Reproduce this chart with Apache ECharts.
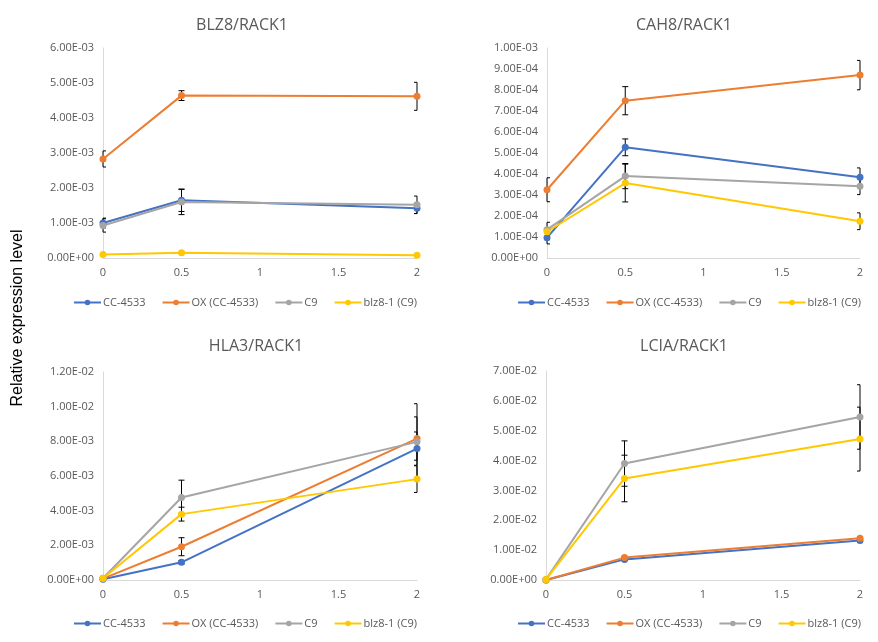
<!DOCTYPE html>
<html>
<head>
<meta charset="utf-8">
<script src="https://cdn.jsdelivr.net/npm/echarts@6/dist/echarts.min.js"></script>
<style>
html,body{margin:0;padding:0;background:#fff;}
#c{width:878px;height:642px;}
</style>
</head>
<body>
<div id="c"></div>
<script>
// ---- data ----
const times = [0, 0.5, 2];
const seriesNames = ['CC-4533', 'OX (CC-4533)', 'C9', 'blz8-1 (C9)'];
const xTickLabels = ['0', '0.5', '1', '1.5', '2'];

const panelTitles = ['BLZ8/RACK1', 'CAH8/RACK1', 'HLA3/RACK1', 'LCIA/RACK1'];
const panelYMax = [6e-3, 1e-3, 1.2e-2, 7e-2];
const panelYStep = [1e-3, 1e-4, 2e-3, 1e-2];

// BLZ8/RACK1
const blz8_CC = [1.00e-3, 1.65e-3, 1.42e-3];
const blz8_OX = [2.83e-3, 4.64e-3, 4.62e-3];
const blz8_C9 = [0.93e-3, 1.60e-3, 1.52e-3];
const blz8_mut = [0.10e-3, 0.15e-3, 0.08e-3];
const blz8_CC_err = [0.14e-3, 0.32e-3, 0.15e-3];
const blz8_OX_err = [0.23e-3, 0.14e-3, 0.40e-3];
const blz8_C9_err = [0.19e-3, 0.36e-3, 0.25e-3];
const blz8_mut_err = [0.02e-3, 0.02e-3, 0.02e-3];

// CAH8/RACK1
const cah8_CC = [0.97e-4, 5.27e-4, 3.84e-4];
const cah8_OX = [3.25e-4, 7.49e-4, 8.71e-4];
const cah8_C9 = [1.35e-4, 3.90e-4, 3.42e-4];
const cah8_mut = [1.25e-4, 3.57e-4, 1.75e-4];
const cah8_CC_err = [0.30e-4, 0.40e-4, 0.45e-4];
const cah8_OX_err = [0.57e-4, 0.67e-4, 0.70e-4];
const cah8_C9_err = [0.35e-4, 0.60e-4, 0.40e-4];
const cah8_mut_err = [0.20e-4, 0.90e-4, 0.40e-4];

// HLA3/RACK1
const hla3_CC = [0.04e-3, 1.02e-3, 7.58e-3];
const hla3_OX = [0.08e-3, 1.92e-3, 8.16e-3];
const hla3_C9 = [0.10e-3, 4.76e-3, 7.97e-3];
const hla3_mut = [0.10e-3, 3.80e-3, 5.82e-3];
const hla3_CC_err = [0.02e-3, 0.10e-3, 0.96e-3];
const hla3_OX_err = [0.03e-3, 0.52e-3, 1.25e-3];
const hla3_C9_err = [0.05e-3, 1.00e-3, 2.20e-3];
const hla3_mut_err = [0.05e-3, 0.40e-3, 0.77e-3];

// LCIA/RACK1
const lcia_CC = [0.00e-2, 0.69e-2, 1.32e-2];
const lcia_OX = [0.00e-2, 0.75e-2, 1.40e-2];
const lcia_C9 = [0.02e-2, 3.90e-2, 5.46e-2];
const lcia_mut = [0.02e-2, 3.40e-2, 4.72e-2];
const lcia_CC_err = [0.00e-2, 0.03e-2, 0.05e-2];
const lcia_OX_err = [0.00e-2, 0.03e-2, 0.05e-2];
const lcia_C9_err = [0.01e-2, 0.76e-2, 1.08e-2];
const lcia_mut_err = [0.01e-2, 0.78e-2, 1.07e-2];

const panelValues = [
  [blz8_CC, blz8_OX, blz8_C9, blz8_mut],
  [cah8_CC, cah8_OX, cah8_C9, cah8_mut],
  [hla3_CC, hla3_OX, hla3_C9, hla3_mut],
  [lcia_CC, lcia_OX, lcia_C9, lcia_mut]
];
const panelErrors = [
  [blz8_CC_err, blz8_OX_err, blz8_C9_err, blz8_mut_err],
  [cah8_CC_err, cah8_OX_err, cah8_C9_err, cah8_mut_err],
  [hla3_CC_err, hla3_OX_err, hla3_C9_err, hla3_mut_err],
  [lcia_CC_err, lcia_OX_err, lcia_C9_err, lcia_mut_err]
];

// ---- styling / layout ----
const colors = ['#4472C4', '#ED7D31', '#A5A5A5', '#FFC800'];
const grids = [
  {left: 103, right: 461, top: 48, bottom: 384},
  {left: 547, right: 18, top: 48, bottom: 384},
  {left: 103, right: 461, top: 372, bottom: 62},
  {left: 546, right: 18, top: 371, bottom: 62}
];
const titlePos = [[237, 12], [679, 12], [251, 333], [679, 333]];
const legendPos = [[73, 297], [517, 297], [73, 618], [517, 618]];
const FONT = "'Open Sans', 'Noto Sans', sans-serif";

function sciFmt(v) {
  const s = v.toExponential(2).split('e');
  const sign = s[1][0];
  const d = s[1].slice(1).padStart(2, '0');
  return s[0] + 'E' + sign + d;
}

function renderErr(params, api) {
  const x = api.value(0), y = api.value(1), e = api.value(2);
  if (!e) return null;
  const cs = params.coordSys;
  const t = api.coord([x, y + e]);
  const b = api.coord([x, y - e]);
  const w = 3;
  const xl = Math.max(t[0] - w, cs.x), xr = Math.min(t[0] + w, cs.x + cs.width);
  const st = {stroke: '#000', lineWidth: 1};
  return {
    type: 'group',
    children: [
      {type: 'line', shape: {x1: t[0], y1: t[1], x2: b[0], y2: b[1]}, style: st},
      {type: 'line', shape: {x1: xl, y1: t[1], x2: xr, y2: t[1]}, style: st},
      {type: 'line', shape: {x1: xl, y1: b[1], x2: xr, y2: b[1]}, style: st}
    ]
  };
}

const option = {
  animation: false,
  backgroundColor: '#fff',
  title: panelTitles.map((t, i) => ({
    text: t, left: titlePos[i][0], top: titlePos[i][1], textAlign: 'center',
    textStyle: {fontFamily: FONT, fontSize: 16, fontWeight: 'normal', color: '#595959'}
  })),
  legend: grids.map((g, i) => ({
    data: seriesNames,
    left: legendPos[i][0], top: legendPos[i][1], padding: 0,
    itemWidth: 27, itemHeight: 7, itemGap: 16,
    textStyle: {fontFamily: FONT, fontSize: 11, color: '#595959', padding: [0, 0, 0, -3]},
    selectedMode: false
  })),
  grid: grids,
  xAxis: grids.map((g, i) => ({
    type: 'value', gridIndex: i, min: 0, max: 2, interval: 0.5,
    axisLine: {show: true, lineStyle: {color: '#D9D9D9', width: 1}},
    axisTick: {show: false},
    splitLine: {show: false},
    axisLabel: {fontFamily: FONT, fontSize: 11, color: '#595959', margin: 9,
      formatter: v => xTickLabels[Math.round(v / 0.5)]}
  })),
  yAxis: grids.map((g, i) => ({
    type: 'value', gridIndex: i, min: 0, max: panelYMax[i], interval: panelYStep[i],
    axisLine: {show: true, lineStyle: {color: '#D9D9D9', width: 1}},
    axisTick: {show: false},
    splitLine: {show: false},
    axisLabel: {fontFamily: FONT, fontSize: 11, color: '#595959', margin: 9,
      formatter: v => sciFmt(v)}
  })),
  graphic: [{
    type: 'text', x: 18, y: 318, rotation: Math.PI / 2,
    style: {text: 'Relative expression level', fill: '#000', fontSize: 16,
      fontFamily: "'Liberation Sans', Arial, sans-serif", align: 'center', verticalAlign: 'middle'}
  }],
  series: []
};

for (let p = 0; p < 4; p++) {
  for (let s = 0; s < 4; s++) {
    option.series.push({
      type: 'custom', name: 'err' + p + s,
      xAxisIndex: p, yAxisIndex: p, z: 1,
      renderItem: renderErr,
      data: times.map((t, k) => [t, panelValues[p][s][k], panelErrors[p][s][k]])
    });
  }
  for (let s = 0; s < 4; s++) {
    option.series.push({
      type: 'line', name: seriesNames[s],
      xAxisIndex: p, yAxisIndex: p, z: 3,
      color: colors[s],
      symbol: 'circle', symbolSize: 7,
      lineStyle: {width: 2, color: colors[s]},
      itemStyle: {color: colors[s]},
      data: times.map((t, k) => [t, panelValues[p][s][k]])
    });
  }
}

const chart = echarts.init(document.getElementById('c'), null, {renderer: 'canvas'});
chart.setOption(option);
</script>
</body>
</html>
